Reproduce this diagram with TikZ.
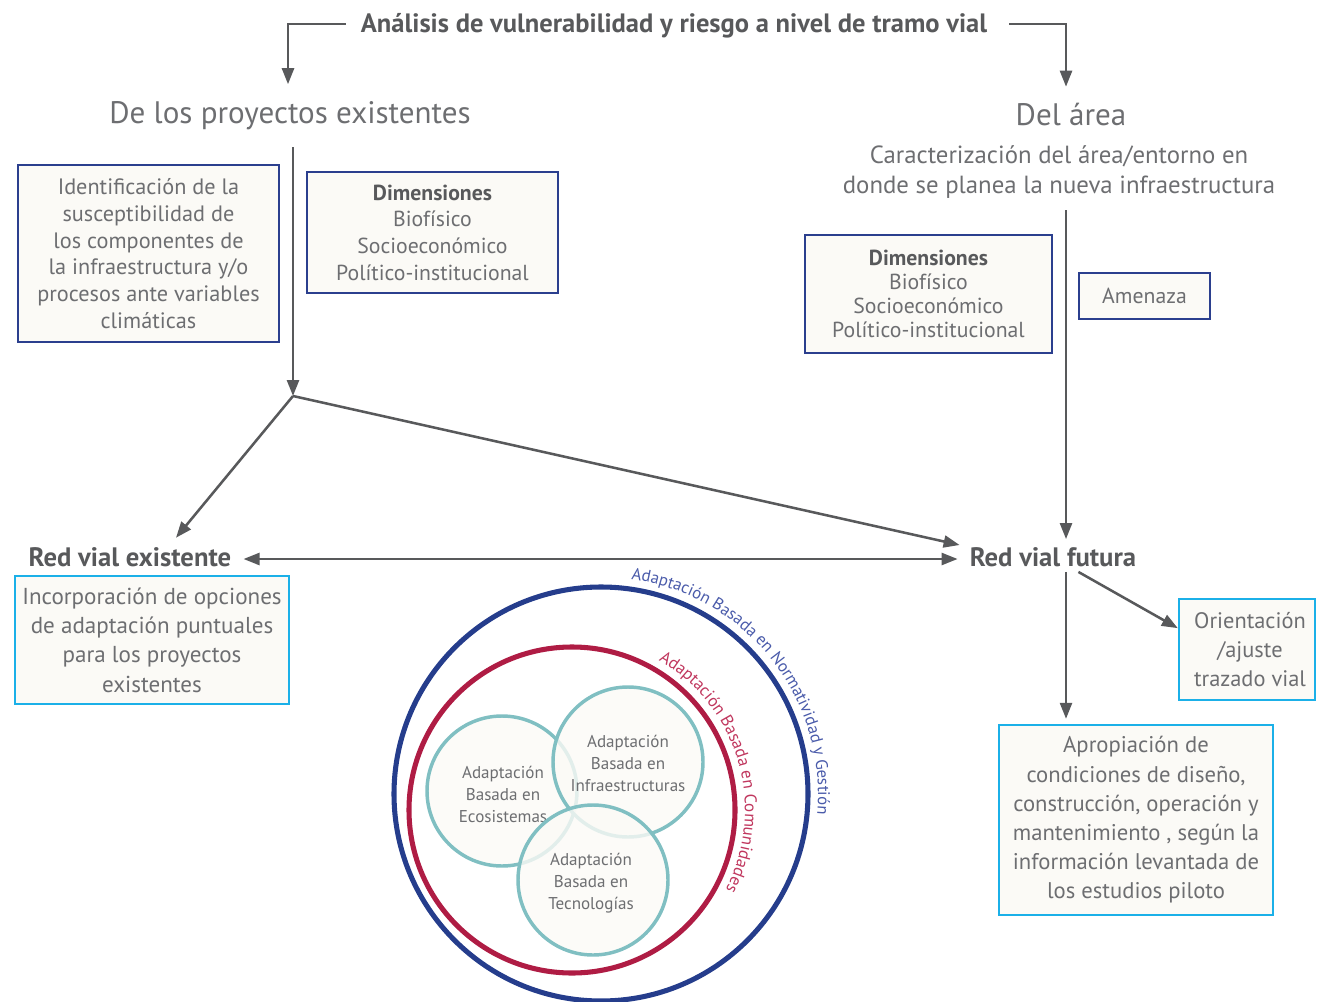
\documentclass[tikz,border=0pt]{standalone}
\usepackage{fontspec}
\setmainfont{PT Sans}
\usetikzlibrary{arrows.meta,decorations.text}
\definecolor{txt}{HTML}{6D6E71}
\definecolor{txtb}{HTML}{58595B}
\definecolor{navy}{HTML}{2B3F8E}
\definecolor{cyanb}{HTML}{1BB0E8}
\definecolor{paper}{HTML}{FBFAF6}
\definecolor{arrowc}{HTML}{58595B}
\definecolor{ringblue}{HTML}{253D8C}
\definecolor{ringred}{HTML}{AF1C44}
\definecolor{tealc}{HTML}{80BFC2}
\definecolor{bluetxt}{HTML}{4A5BAA}
\definecolor{redtxt}{HTML}{C0375E}
\newcommand\fsz[2]{\fontsize{#1}{#2}\selectfont}
\tikzset{
  lbl/.style={text=txt, align=center, inner sep=0pt},
  boldlbl/.style={text=txtb, align=center, inner sep=0pt, font=\bfseries\fsz{20}{22}},
  box/.style={draw=navy, line width=1.8pt, fill=paper, align=center, text=txt, inner sep=0pt},
  cbox/.style={box, draw=cyanb},
  arr/.style={draw=arrowc, line width=1.9pt, -{Triangle[length=12pt,width=9pt]}},
  darr/.style={draw=arrowc, line width=1.9pt, {Triangle[length=12pt,width=9pt]}-{Triangle[length=12pt,width=9pt]}},
  vcirc/.style={draw=tealc, line width=2.6pt, fill=paper, fill opacity=0.8},
  ctext/.style={text=txt, align=center, inner sep=0pt, font=\fsz{12.8}{16.5}},
}
\begin{document}
\begin{tikzpicture}[x=0.75pt,y=-0.75pt]
\useasboundingbox (0,0) rectangle (1317,1002);

% title and headings
\node[boldlbl, font=\bfseries\fsz{19.9}{22}] (title) at (674,26) {Análisis de vulnerabilidad y riesgo a nivel de tramo vial};
\node[lbl, font=\fsz{23.3}{26}] (proj) at (290,116) {De los proyectos existentes};
\node[lbl, font=\fsz{23.3}{26}] (area) at (1071,115) {Del área};
\node[lbl, font=\fsz{18.6}{22.5}] (carac) at (1059,172.5) {Caracterización del área/entorno en\\donde se planea la nueva infraestructura};

\draw[arr, shorten >=13pt] ([yshift=1.5pt]title.west) ++(-15,0) -| ([xshift=-1.5pt]proj.north);
\draw[arr, shorten >=12.5pt] ([yshift=1.5pt]title.east) ++(22,0) -| ([xshift=-3.75pt]area.north);

% boxes left
\node[box, minimum width=195.75pt, minimum height=132.75pt, font=\fsz{16.7}{20}] (ident) at (148.5,253.5)
  {Identificación de la\\susceptibilidad de\\los componentes de\\la infraestructura y/o\\procesos ante variables\\climáticas};
\node[box, minimum width=188.25pt, minimum height=90.75pt, font=\fsz{16.3}{20}] (dim1) at (432.5,232.5)
  {{\bfseries\color{txtb}Dimensiones}\\Biofísico\\Socioeconómico\\Político-institucional};

% boxes right
\node[box, minimum width=185.25pt, minimum height=88.5pt, font=\fsz{16.3}{18}] (dim2) at (928.5,294)
  {{\bfseries\color{txtb}Dimensiones}\\Biofísico\\Socioeconómico\\Político-institucional};
\node[box, minimum width=98.25pt, minimum height=34.5pt, font=\fsz{16.3}{18}] (amen) at (1144.5,296) {Amenaza};

% road nodes
\node[boldlbl] (exist) at (130,557) {Red vial existente};
\node[boldlbl] (futura) at (1053,557) {Red vial futura};
\coordinate (fork) at (293,396);
\coordinate (rx) at (1066,0);

\draw[arr] (fork |- proj.south) ++(0,17) -- (fork);
\draw[arr] (carac.south -| rx) ++(0,11) -- ([yshift=6pt]futura.north -| rx);
\draw[arr] (fork) -- ([xshift=34.5pt,yshift=7pt]exist.north);
\draw[arr] (fork) -- ([xshift=-7.5pt,yshift=9pt]futura.west);
\draw[darr, shorten <=9pt, shorten >=9pt] ([yshift=-1.5pt]exist.east) -- ([yshift=-1.5pt]futura.west);

\node[cbox, minimum width=205.5pt, minimum height=96pt, font=\fsz{17.3}{22}] (incorp) at (152,640)
  {Incorporación de opciones\\de adaptación puntuales\\para los proyectos\\existentes};
\node[cbox, minimum width=102pt, minimum height=75.75pt, font=\fsz{16.8}{21.75}] (orient) at (1247,649.5)
  {\hspace*{4.5pt}Orientación\\\hspace*{4.5pt}/ajuste\\\hspace*{4.5pt}trazado vial};
\node[cbox, minimum width=205.5pt, minimum height=142.5pt, font=\fsz{17}{21.9}] (aprop) at (1136,820)
  {Apropiación de\\condiciones de diseño,\\construcción, operación y\\mantenimiento , según la\\información levantada de\\los estudios piloto};

\draw[arr] (futura.south -| rx) ++(0,5) -- ([yshift=3.75pt]aprop.north -| rx);
\draw[arr] (futura.south east) ++(-58,5) -- ([yshift=16pt]orient.west);

% rings
\coordinate (cblue) at (601,794);
\coordinate (cred) at (572,810);
\draw[ringblue, line width=3.8pt] (cblue) circle[radius=207];
\draw[ringred, line width=3.8pt] (cred) circle[radius=163];
\path[decorate, decoration={text along path, text align=left,
   text={|\fsz{12.6}{12.6}\color{bluetxt}|Adaptación Basada en Normatividad y Gestión}}]
   (cblue) ++(-82:217) arc[start angle=-82, end angle=25, radius=217];
\path[decorate, decoration={text along path, text align=left,
   text={|\fsz{12.8}{12.8}\color{redtxt}|Adaptación Basada en Comunidades}}]
   (cred) ++(-60:173) arc[start angle=-60, end angle=45, radius=173];

% venn circles
\draw[vcirc] (502,791) circle[radius=75];
\node[ctext] (eco) at (503,794) {Adaptación\\Basada en\\Ecosistemas};
\draw[vcirc] (628,762) circle[radius=75];
\node[ctext] (infra) at (628,763) {Adaptación\\Basada en\\Infraestructuras};
\draw[vcirc] (593,880) circle[radius=75];
\node[ctext] (tecno) at (591,883) {Adaptación\\Basada en\\Tecnologías};
\end{tikzpicture}
\end{document}
